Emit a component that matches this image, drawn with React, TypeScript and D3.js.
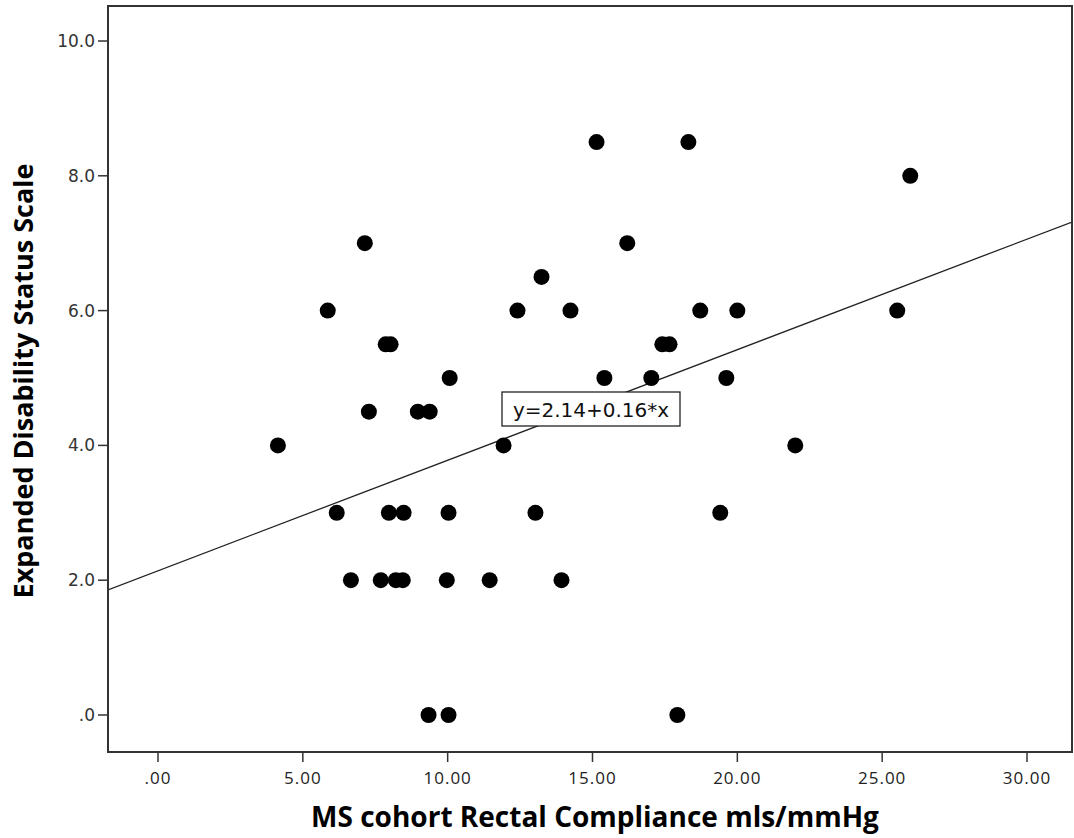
import React from "react";
import * as d3 from "d3";

const compliance = [4.14, 5.86, 6.17, 6.66, 7.14, 7.28, 7.69, 7.86, 8.03, 7.97, 8.21, 8.45, 8.48, 8.97, 9.38, 9.34, 10.03, 9.97, 10.03, 10.07, 11.45, 11.93, 12.41, 13.03, 13.24, 13.93, 14.24, 15.14, 15.41, 16.2, 17.03, 17.41, 17.66, 17.93, 18.31, 18.72, 19.41, 19.62, 20.0, 22.0, 25.52, 25.97];
const edss = [4, 6, 3, 2, 7, 4.5, 2, 5.5, 5.5, 3, 2, 2, 3, 4.5, 4.5, 0, 0, 2, 3, 5, 2, 4, 6, 3, 6.5, 2, 6, 8.5, 5, 7, 5, 5.5, 5.5, 0, 8.5, 6, 3, 5, 6, 4, 6, 8];
const xTicks = [0, 5, 10, 15, 20, 25, 30];
const yTicks = [0, 2, 4, 6, 8, 10];
const intercept = 2.14;
const slope = 0.164;
const equationLabel = "y=2.14+0.16*x";
const xTitle = "MS cohort Rectal Compliance mls/mmHg";
const yTitle = "Expanded Disability Status Scale";

export default function App() {
  const W = 1074, H = 838;
  const L = 108, R = 1072, T = 6, B = 752;
  const x = d3.scaleLinear().domain([0, 30]).range([158, 1027]);
  const y = d3.scaleLinear().domain([0, 10]).range([715, 715 - 67.4 * 10]);
  const x0 = x.invert(L), x1 = x.invert(R);
  const line = d3.line<number>().x(d => x(d)).y(d => y(intercept + slope * d));
  const tickFmtX = (v: number) => (v === 0 ? ".00" : v.toFixed(2));
  const tickFmtY = (v: number) => (v === 0 ? ".0" : v.toFixed(1));
  const eqX = 591, eqY = 409;
  return (
    <svg width={W} height={H} style={{ position: "absolute", left: 0, top: 0, background: "#fff" }}>
      <rect x={0} y={0} width={W} height={H} fill="#fff" />
      <defs>
        <clipPath id="plot"><rect x={L} y={T} width={R - L} height={B - T} /></clipPath>
      </defs>
      <path d={line([x0, x1]) || ""} stroke="#222" strokeWidth={1.3} fill="none" clipPath="url(#plot)" />
      {compliance.map((c, i) => (
        <circle key={i} cx={x(c)} cy={y(edss[i])} r={8} fill="#000" />
      ))}
      <rect x={eqX - 89} y={eqY - 17} width={178} height={34} fill="#fff" stroke="#222" strokeWidth={1.3} />
      <text x={eqX} y={eqY + 8} textAnchor="middle" fontFamily="'DejaVu Sans', Verdana, sans-serif" fontSize={20} fill="#111">{equationLabel}</text>
      <rect x={L} y={T} width={R - L} height={B - T} fill="none" stroke="#333" strokeWidth={2} />
      {xTicks.map(t => (
        <g key={t}>
          <line x1={x(t)} x2={x(t)} y1={B} y2={B + 10} stroke="#333" strokeWidth={1.5} />
          <text x={x(t)} y={784} textAnchor="middle" fontFamily="'Open Sans', sans-serif" fontSize={17} letterSpacing={1} fill="#222">{tickFmtX(t)}</text>
        </g>
      ))}
      {yTicks.map(t => (
        <g key={t}>
          <line x1={L - 10} x2={L} y1={y(t)} y2={y(t)} stroke="#333" strokeWidth={1.5} />
          <text x={95} y={y(t) + 6} textAnchor="end" fontFamily="'DejaVu Sans', Verdana, sans-serif" fontSize={17} fill="#333">{tickFmtY(t)}</text>
        </g>
      ))}
      <text x={595} y={827} textAnchor="middle" fontFamily="'Open Sans', sans-serif" fontWeight="bold" fontSize={28} fill="#000">{xTitle}</text>
      <text transform={`translate(33,381) rotate(-90)`} textAnchor="middle" fontFamily="'Open Sans', sans-serif" fontWeight="bold" fontSize={27} fill="#000">{yTitle}</text>
    </svg>
  );
}
